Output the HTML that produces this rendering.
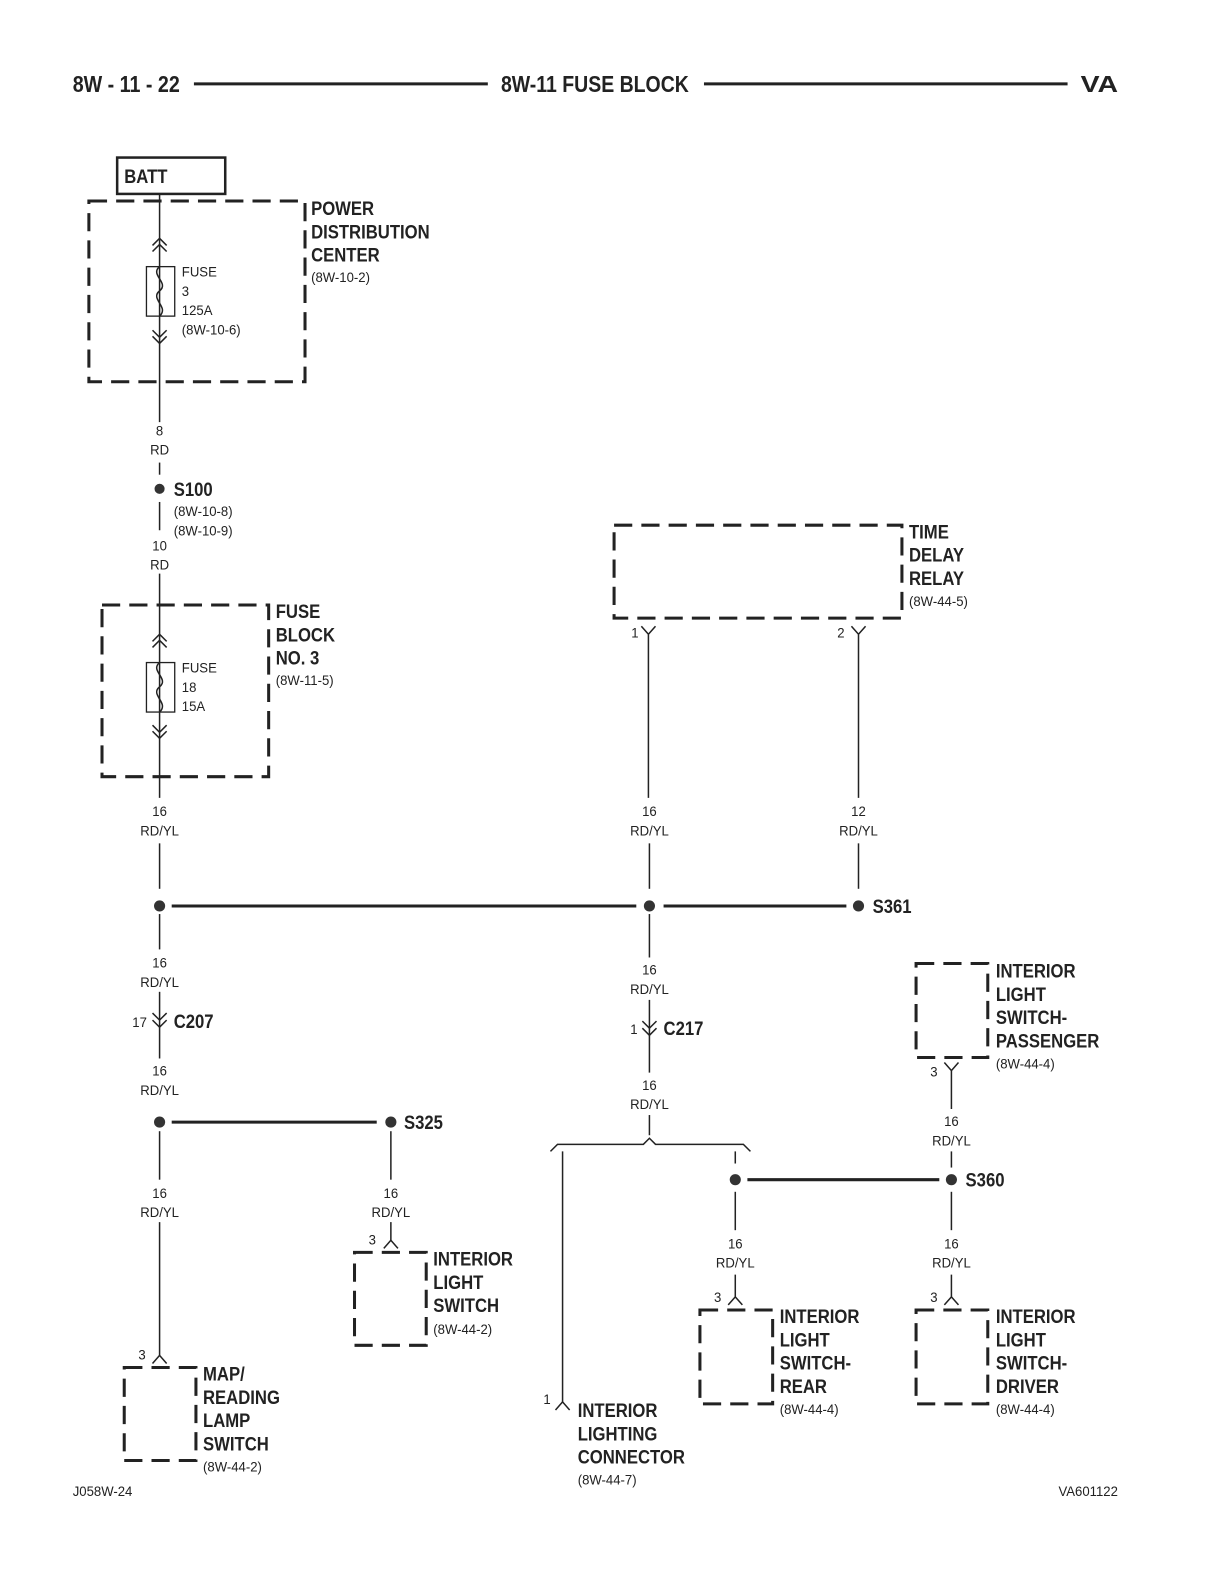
<!DOCTYPE html>
<html><head><meta charset="utf-8"><style>
html,body{margin:0;padding:0;background:#fff;}
svg{display:block;}
.b{font-family:"Liberation Sans Narrow","Liberation Sans",sans-serif;font-weight:bold;font-size:19px;fill:#222;transform-box:fill-box;transform-origin:left center;transform:scaleX(0.87);}
.s{font-family:"Liberation Sans Narrow","Liberation Sans",sans-serif;font-size:14px;fill:#222;transform-box:fill-box;transform-origin:left center;transform:scaleX(0.93);}
.c text{transform-origin:center center;}
.h{font-family:"Liberation Sans Narrow","Liberation Sans",sans-serif;font-weight:bold;font-size:23px;fill:#222;}
</style></head><body>
<svg width="1224" height="1584" viewBox="0 0 1224 1584" xmlns="http://www.w3.org/2000/svg">
<g transform="scale(1.01)">
<!-- header -->
<text x="72" y="91" class="h" textLength="106" lengthAdjust="spacingAndGlyphs">8W - 11 - 22</text>
<line x1="192" y1="83" x2="483" y2="83" stroke="#222" stroke-width="3"/>
<text x="496" y="91" class="h" textLength="186" lengthAdjust="spacingAndGlyphs">8W-11 FUSE BLOCK</text>
<line x1="697" y1="83" x2="1057" y2="83" stroke="#222" stroke-width="3"/>
<text x="1070" y="91" class="h" textLength="37" lengthAdjust="spacingAndGlyphs">VA</text>

<g fill="none" stroke="#222">
<rect x="116" y="156" width="107" height="36" stroke-width="2.5"/>
<g stroke-width="3" stroke-dasharray="18 9">
<rect x="88" y="199" width="214" height="179"/>
<rect x="101" y="599" width="165" height="170"/>
<rect x="608" y="520" width="285" height="92"/>
<rect x="123" y="1354" width="71" height="92"/>
<rect x="351" y="1240" width="71" height="92"/>
<rect x="907" y="954" width="71" height="93"/>
<rect x="693" y="1297" width="72" height="93"/>
<rect x="907" y="1297" width="71" height="93"/>
</g>
<g stroke-width="1.5">
<line x1="158" y1="192" x2="158" y2="418"/>
<rect x="145" y="264" width="28" height="49" stroke-width="1.3"/>
<path d="M158 264 c-10 8 10 16 0 24 c-10 8 10 16 0 25"/>
<path d="M151 243 l7-7 7 7 M151 249 l7-7 7 7"/>
<path d="M151 327 l7 7 7-7 M151 333 l7 7 7-7"/>
<line x1="158" y1="458" x2="158" y2="470"/>
<line x1="158" y1="497" x2="158" y2="525"/>
<line x1="158" y1="568" x2="158" y2="790"/>
<rect x="145" y="656" width="28" height="49" stroke-width="1.3"/>
<path d="M158 656 c-10 8 10 16 0 24 c-10 8 10 16 0 25"/>
<path d="M151 635 l7-7 7 7 M151 641 l7-7 7 7"/>
<path d="M151 718 l7 7 7-7 M151 724 l7 7 7-7"/>
<line x1="158" y1="835" x2="158" y2="880"/>
<path d="M635 620 l7 8 7-8 M642 628 V790"/>
<path d="M843 620 l7 8 7-8 M850 628 V790"/>
<line x1="643" y1="835" x2="643" y2="880"/>
<line x1="850" y1="835" x2="850" y2="880"/>
<line x1="158" y1="905" x2="158" y2="940"/>
<line x1="158" y1="982" x2="158" y2="1048"/>
<path d="M151 1003 l7 7 7-7 M151 1010 l7 7 7-7"/>
<line x1="158" y1="1120" x2="158" y2="1168"/>
<line x1="158" y1="1210" x2="158" y2="1342"/>
<path d="M151 1350 l7-8 7 8"/>
<line x1="387" y1="1120" x2="387" y2="1168"/>
<line x1="387" y1="1210" x2="387" y2="1228"/>
<path d="M380 1236 l7-8 7 8"/>
<line x1="643" y1="905" x2="643" y2="948"/>
<line x1="643" y1="990" x2="643" y2="1062"/>
<path d="M636 1011 l7 7 7-7 M636 1018 l7 7 7-7"/>
<line x1="643" y1="1104" x2="643" y2="1124"/>
<path d="M545 1140 l7-7 H637 l6-6 6 6 H736 l7 7"/>
<line x1="557" y1="1140" x2="557" y2="1388"/>
<path d="M550 1396 l7-8 7 8"/>
<line x1="728" y1="1140" x2="728" y2="1152"/>
<line x1="728" y1="1180" x2="728" y2="1218"/>
<line x1="728" y1="1262" x2="728" y2="1284"/>
<path d="M721 1292 l7-8 7 8"/>
<path d="M935 1052 l7 8 7-8 M942 1060 V1098"/>
<line x1="942" y1="1140" x2="942" y2="1156"/>
<line x1="942" y1="1180" x2="942" y2="1218"/>
<line x1="942" y1="1262" x2="942" y2="1284"/>
<path d="M935 1292 l7-8 7 8"/>
</g>
<g stroke-width="3">
<line x1="170" y1="897" x2="630" y2="897"/>
<line x1="657" y1="897" x2="838" y2="897"/>
<line x1="170" y1="1111" x2="373" y2="1111"/>
<line x1="740" y1="1168" x2="930" y2="1168"/>
</g>
</g>
<g fill="#333">
<circle cx="158" cy="484" r="5"/>
<circle cx="158" cy="897" r="5.5"/>
<circle cx="643" cy="897" r="5.5"/>
<circle cx="850" cy="897" r="5.5"/>
<circle cx="158" cy="1111" r="5.5"/>
<circle cx="387" cy="1111" r="5.5"/>
<circle cx="728" cy="1168" r="5.5"/>
<circle cx="942" cy="1168" r="5.5"/>
</g>

<text x="123" y="181" class="b">BATT</text>
<text x="308" y="213" class="b">POWER</text><text x="308" y="236" class="b">DISTRIBUTION</text><text x="308" y="259" class="b">CENTER</text>
<text x="308" y="279" class="s">(8W-10-2)</text>
<text x="180" y="274" class="s">FUSE</text><text x="180" y="293" class="s">3</text><text x="180" y="312" class="s">125A</text><text x="180" y="331" class="s">(8W-10-6)</text>
<g class="c" text-anchor="middle">
<text x="158" y="431" class="s">8</text><text x="158" y="450" class="s">RD</text>
<text x="158" y="545" class="s">10</text><text x="158" y="564" class="s">RD</text>
<text x="158" y="808" class="s">16</text><text x="158" y="827" class="s">RD/YL</text>
<text x="643" y="808" class="s">16</text><text x="643" y="827" class="s">RD/YL</text>
<text x="850" y="808" class="s">12</text><text x="850" y="827" class="s">RD/YL</text>
<text x="158" y="958" class="s">16</text><text x="158" y="977" class="s">RD/YL</text>
<text x="158" y="1065" class="s">16</text><text x="158" y="1084" class="s">RD/YL</text>
<text x="158" y="1186" class="s">16</text><text x="158" y="1205" class="s">RD/YL</text>
<text x="387" y="1186" class="s">16</text><text x="387" y="1205" class="s">RD/YL</text>
<text x="643" y="965" class="s">16</text><text x="643" y="984" class="s">RD/YL</text>
<text x="643" y="1079" class="s">16</text><text x="643" y="1098" class="s">RD/YL</text>
<text x="942" y="1115" class="s">16</text><text x="942" y="1134" class="s">RD/YL</text>
<text x="728" y="1236" class="s">16</text><text x="728" y="1255" class="s">RD/YL</text>
<text x="942" y="1236" class="s">16</text><text x="942" y="1255" class="s">RD/YL</text>
</g>
<text x="172" y="491" class="b">S100</text>
<text x="172" y="511" class="s">(8W-10-8)</text><text x="172" y="530" class="s">(8W-10-9)</text>
<text x="273" y="612" class="b">FUSE</text><text x="273" y="635" class="b">BLOCK</text><text x="273" y="658" class="b">NO. 3</text>
<text x="273" y="678" class="s">(8W-11-5)</text>
<text x="180" y="666" class="s">FUSE</text><text x="180" y="685" class="s">18</text><text x="180" y="704" class="s">15A</text>
<text x="900" y="533" class="b">TIME</text><text x="900" y="556" class="b">DELAY</text><text x="900" y="579" class="b">RELAY</text>
<text x="900" y="600" class="s">(8W-44-5)</text>
<text x="625" y="631" class="s">1</text>
<text x="829" y="631" class="s">2</text>
<text x="864" y="904" class="b">S361</text>
<text x="131" y="1017" class="s">17</text>
<text x="172" y="1018" class="b">C207</text>
<text x="624" y="1024" class="s">1</text>
<text x="657" y="1025" class="b">C217</text>
<text x="400" y="1118" class="b">S325</text>
<text x="956" y="1175" class="b">S360</text>
<text x="137" y="1346" class="s">3</text>
<text x="365" y="1232" class="s">3</text>
<text x="707" y="1289" class="s">3</text>
<text x="921" y="1289" class="s">3</text>
<text x="921" y="1066" class="s">3</text>
<text x="538" y="1390" class="s">1</text>
<text x="201" y="1367" class="b">MAP/</text><text x="201" y="1390" class="b">READING</text><text x="201" y="1413" class="b">LAMP</text><text x="201" y="1436" class="b">SWITCH</text>
<text x="201" y="1457" class="s">(8W-44-2)</text>
<text x="429" y="1253" class="b">INTERIOR</text><text x="429" y="1276" class="b">LIGHT</text><text x="429" y="1299" class="b">SWITCH</text>
<text x="429" y="1321" class="s">(8W-44-2)</text>
<text x="572" y="1403" class="b">INTERIOR</text><text x="572" y="1426" class="b">LIGHTING</text><text x="572" y="1449" class="b">CONNECTOR</text>
<text x="572" y="1470" class="s">(8W-44-7)</text>
<text x="772" y="1310" class="b">INTERIOR</text><text x="772" y="1333" class="b">LIGHT</text><text x="772" y="1356" class="b">SWITCH-</text><text x="772" y="1379" class="b">REAR</text>
<text x="772" y="1400" class="s">(8W-44-4)</text>
<text x="986" y="1310" class="b">INTERIOR</text><text x="986" y="1333" class="b">LIGHT</text><text x="986" y="1356" class="b">SWITCH-</text><text x="986" y="1379" class="b">DRIVER</text>
<text x="986" y="1400" class="s">(8W-44-4)</text>
<text x="986" y="968" class="b">INTERIOR</text><text x="986" y="991" class="b">LIGHT</text><text x="986" y="1014" class="b">SWITCH-</text><text x="986" y="1037" class="b">PASSENGER</text>
<text x="986" y="1058" class="s">(8W-44-4)</text>
<text x="72" y="1481" class="s">J058W-24</text>
<text x="1048" y="1481" class="s">VA601122</text>
</g>
</svg>
</body></html>
